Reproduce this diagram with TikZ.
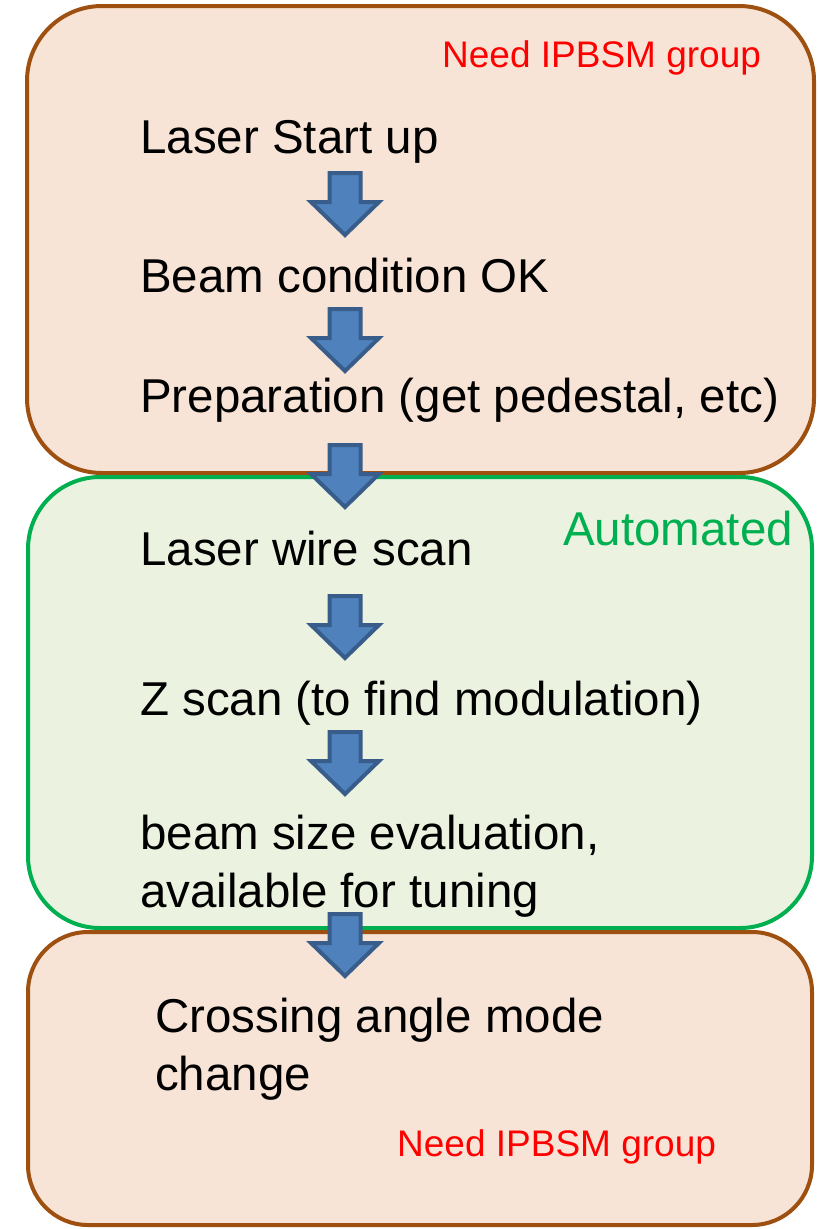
\documentclass[tikz,border=0pt]{standalone}
\usepackage{fontspec}
\setmainfont{Liberation Sans}

\definecolor{peach}{RGB}{248,228,214}
\definecolor{rim}{RGB}{158,80,16}
\definecolor{mint}{RGB}{235,243,224}
\definecolor{leaf}{RGB}{0,176,80}
\definecolor{arrowfill}{RGB}{79,129,189}
\definecolor{arrowrim}{RGB}{56,93,138}

\tikzset{
  stage/.style={anchor=base west,inner sep=0pt,align=left,
    font=\fontsize{47.5}{57.5}\selectfont},
  note/.style={anchor=base west,inner sep=0pt,font=\fontsize{37}{44}\selectfont},
  phase/.style={line width=4pt},
  flowarrow/.style={fill=arrowfill,draw=arrowrim,line width=4pt,line join=miter}
}

\begin{document}
\begin{tikzpicture}[x=1pt,y=-1pt]
   \useasboundingbox (0,0) rectangle (817,1229);
   % the three phases
   \draw[phase,draw=rim,fill=peach,rounded corners=75] (27,6) rectangle (814,473);
   \draw[phase,draw=leaf,fill=mint,rounded corners=72] (28,477) rectangle (812,928);
   \draw[phase,draw=rim,fill=peach,rounded corners=60] (28,932) rectangle (812,1225);
   % steps (multi-line nodes sit on their last line)
   \node[stage] (start) at (140,153) {Laser Start up};
   \node[stage] (beam) at (140,292) {Beam condition OK};
   \node[stage] (prep) at (140,412) {Preparation (get pedestal, etc)};
   \node[stage] (wire) at (140,565) {Laser wire scan};
   \node[stage] (zscan) at (140,715) {Z scan (to find modulation)};
   \node[stage] (eval) at (140,907) {beam size evaluation,\\available for tuning};
   \node[stage] (cross) at (155,1090) {Crossing angle mode\\change};
   % who does it
   \node[note,text=red] (group1) at (442,67) {Need IPBSM group};
   \node[note,text=leaf,font=\fontsize{47.5}{57}\selectfont] (auto) at (563,545) {Automated};
   \node[note,text=red] (group2) at (397,1156) {Need IPBSM group};
   % block arrows
   \foreach \t in {171,307,443,594,730,912}
     \draw[flowarrow] (329.5,\t+2) -- (360.5,\t+2) -- (360.5,\t+31) -- (379,\t+31)
       -- (345,\t+64) -- (311,\t+31) -- (329.5,\t+31) -- cycle;
\end{tikzpicture}
\end{document}
